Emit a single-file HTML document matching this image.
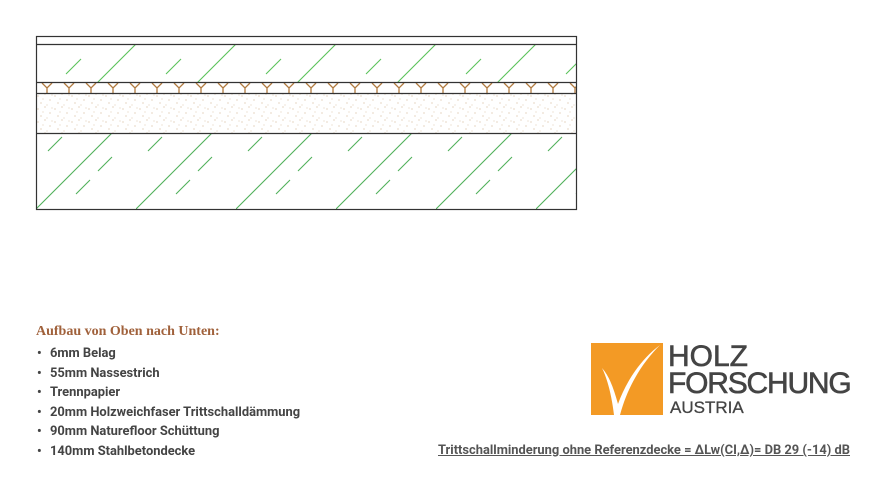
<!DOCTYPE html>
<html><head><meta charset="utf-8"><style>
body{margin:0;width:886px;height:491px;background:#fff;overflow:hidden;position:relative;font-family:"Roboto","Liberation Sans",sans-serif}
.h{position:absolute;left:36px;top:324px;font-family:"Liberation Serif",serif;font-weight:bold;font-size:14px;color:#a0613b}
ul{position:absolute;left:36px;top:344px;margin:0;padding:0;list-style:none;font-weight:bold;font-size:12.9px;color:#444}
li{height:19.5px;line-height:19.5px}
li:before{content:"•";display:inline-block;width:13px;padding-left:1px}
.f{position:absolute;left:438px;top:443px;font-size:12.9px;font-weight:bold;color:#555;text-decoration:underline;white-space:nowrap}
.lg{position:absolute;color:#444;font-family:"Liberation Sans",sans-serif;white-space:nowrap}
</style></head><body>
<svg width="886" height="491" style="position:absolute;left:0;top:0">
<defs>
<pattern id="ht" width="100" height="100" patternUnits="userSpaceOnUse" x="36" y="44">
<g stroke="#5ac25a" stroke-width="1.1" fill="none">
<line x1="0" y1="100" x2="100" y2="0"/>
<line x1="5" y1="55" x2="20" y2="40"/>
<line x1="30" y1="30" x2="45" y2="15"/>
<line x1="55" y1="95" x2="70" y2="80"/>
<line x1="75" y1="60" x2="90" y2="45"/>
<line x1="45" y1="72" x2="58" y2="59"/>
</g></pattern>
<pattern id="hb" width="100" height="100" patternUnits="userSpaceOnUse" x="36" y="109">
<g stroke="#4fb05a" stroke-width="1.1" fill="none">
<line x1="0" y1="100" x2="100" y2="0"/>
<line x1="12" y1="42" x2="26" y2="28"/>
<line x1="40" y1="85" x2="54" y2="71"/>
<line x1="62" y1="62" x2="76" y2="48"/>
<line x1="86" y1="20" x2="98" y2="8"/>
</g></pattern>
<pattern id="y" width="22" height="11" patternUnits="userSpaceOnUse" x="36" y="82">
<path d="M6 1 L11 6 L16 1 M11 6 L11 11" stroke="#b07a3f" stroke-width="1.3" fill="none"/>
</pattern>
<pattern id="s" width="17" height="13" patternUnits="userSpaceOnUse" x="36" y="93">
<g fill="#d4b898"><circle cx="2" cy="3" r=".6"/><circle cx="9" cy="1" r=".6"/><circle cx="14" cy="7" r=".6"/><circle cx="5" cy="10" r=".6"/><circle cx="11" cy="12" r=".5"/><circle cx="7" cy="6" r=".5"/><circle cx="16" cy="2" r=".5"/></g>
</pattern>
</defs>
<rect x="36" y="44" width="540" height="38" fill="url(#ht)"/>
<rect x="36" y="82" width="540" height="11" fill="url(#y)"/>
<rect x="36" y="93" width="540" height="40" fill="url(#s)"/>
<rect x="36" y="133" width="540" height="76" fill="url(#hb)"/>
<g stroke="#333" stroke-width="1.2" fill="none">
<rect x="36.5" y="36.5" width="540" height="173"/>
<line x1="36" y1="44.5" x2="576" y2="44.5"/>
<line x1="36" y1="82.5" x2="576" y2="82.5"/>
<line x1="36" y1="93.5" x2="576" y2="93.5"/>
<line x1="36" y1="133.5" x2="576" y2="133.5"/>
</g>
<rect x="591" y="343" width="72" height="72" fill="#f39a25"/>
<path d="M602 368 C608 380 612 398 614 415 L620 415 C628 385 643 362 660 345 C640 360 626 382 618 404 C614 390 610 377 602 368Z" fill="#fff"/>
</svg>
<div class="lg" style="left:668px;top:340px;font-size:30px;-webkit-text-stroke:0.6px #444">HOLZ</div>
<div class="lg" style="left:668px;top:367px;font-size:30px;letter-spacing:-1.2px;-webkit-text-stroke:0.6px #444">FORSCHUNG</div>
<div class="lg" style="left:670px;top:398px;font-size:17px;-webkit-text-stroke:0.3px #444">AUSTRIA</div>
<div class="h">Aufbau von Oben nach Unten:</div>
<ul>
<li>6mm Belag</li>
<li>55mm Nassestrich</li>
<li>Trennpapier</li>
<li>20mm Holzweichfaser Trittschalldämmung</li>
<li>90mm Naturefloor Schüttung</li>
<li>140mm Stahlbetondecke</li>
</ul>
<div class="f">Trittschallminderung ohne Referenzdecke = ΔLw(CI,Δ)= DB 29 (-14) dB</div>
</body></html>
